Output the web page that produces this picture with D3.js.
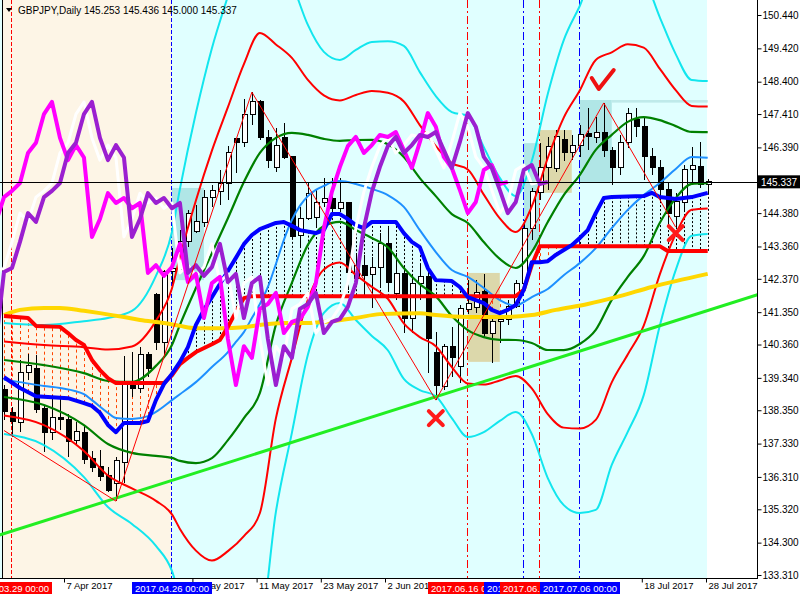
<!DOCTYPE html>
<html><head><meta charset="utf-8">
<script src="https://cdn.jsdelivr.net/npm/d3@7"></script>
<style>body{margin:0;background:#fff}svg{display:block}text{font-family:"Liberation Sans",Arial,sans-serif}</style>
</head><body><svg id="c" width="800" height="600"></svg>
<script>
// ---------- DATA ----------
const symbol = "GBPJPY,Daily";
const firstBarDate = "2017-03-28";
const opens  = [138.97,138.27,137.96,139.49,139.64,138.39,137.68,138.14,138.08,137.41,137.68,136.86,136.64,136.34,136.12,136.74,139.18,139.03,140.04,141.89,140.41,142.58,142.64,143.50,143.83,144.08,144.87,145.03,145.30,146.65,146.53,147.41,147.78,146.68,145.76,146.68,146.10,143.68,144.20,144.26,144.69,144.84,144.53,144.69,142.39,142.79,142.49,142.73,143.44,141.91,142.52,141.17,142.24,142.43,140.13,139.09,140.31,139.68,141.42,141.48,141.97,140.71,141.05,141.14,141.51,142.24,143.92,145.00,145.79,145.73,146.62,146.22,146.46,146.80,146.68,146.86,146.31,145.76,146.55,147.23,147.02,146.10,145.79,145.09,144.29,144.69,145.70,145.82,145.253];
const highs  = [139.12,138.45,139.89,140.07,140.04,138.51,138.82,138.72,138.24,137.99,137.90,137.10,137.13,136.61,136.92,140.00,140.13,140.28,140.13,141.95,142.64,143.30,143.87,144.48,144.63,145.09,145.24,145.70,146.43,146.68,147.87,148.08,147.84,146.92,146.98,147.13,146.12,144.57,145.33,145.09,145.45,145.45,145.45,144.72,143.16,143.10,143.04,143.77,143.92,143.16,142.73,142.49,142.79,142.55,140.74,140.38,140.90,141.57,142.34,142.33,142.52,141.20,141.20,141.72,142.33,144.17,145.15,146.53,146.71,146.92,146.92,146.77,147.07,147.59,147.32,147.75,146.40,146.77,147.59,147.59,147.32,146.37,146.00,145.30,145.00,145.85,146.40,146.55,145.436];
const lows   = [138.05,137.53,137.68,139.28,138.27,137.08,137.44,137.74,136.92,137.26,136.70,136.45,136.20,135.85,135.57,136.12,138.76,138.88,139.36,140.19,139.98,142.20,142.55,143.34,143.77,143.95,144.57,144.63,144.78,145.61,146.40,147.08,146.62,145.76,145.64,146.05,143.62,143.34,144.17,143.93,144.57,144.41,144.41,142.03,142.12,141.83,141.47,142.09,142.03,141.72,140.71,140.71,141.72,139.49,138.66,138.97,139.37,139.18,141.30,141.33,140.56,139.80,140.41,140.96,141.48,142.03,143.56,144.78,145.09,145.64,145.97,146.00,146.10,146.31,146.53,146.10,145.24,145.55,146.37,146.71,145.39,145.55,144.72,144.02,143.95,144.41,145.24,145.15,145.000];
const closes = [138.30,138.00,139.49,139.73,138.36,137.68,138.14,138.08,137.38,137.71,136.83,136.61,136.31,135.91,136.80,139.18,139.03,140.04,139.64,140.41,142.58,142.70,143.50,144.38,144.11,144.87,145.06,145.30,146.22,146.53,147.41,147.78,146.68,146.00,146.46,146.08,143.65,144.20,144.99,144.69,144.84,144.53,144.69,142.55,142.79,142.46,142.73,143.44,142.27,142.52,141.17,142.24,142.43,140.53,139.12,140.31,139.95,141.45,141.60,141.94,140.71,141.05,141.14,141.51,142.24,143.92,145.03,145.79,146.43,146.71,146.22,146.46,146.77,146.71,146.86,146.31,145.76,146.55,147.44,147.02,146.10,145.76,145.09,144.38,144.72,145.70,145.85,145.27,145.337];

// Bollinger-type envelope: middle and one deviation
const bandIdx = [0,5,10,13,16,19,21,22,24,26,28,30,32,34,36,38,40,42,44,46,48,50,52,54,56,58,60,62,64,66,68,70,72,74,76,78,80,82,84,86,88];
const bandMid = [139.32,139.12,138.69,138.28,138.13,138.33,138.62,138.88,139.41,140.02,140.83,141.72,142.55,143.82,144.54,145.09,145.32,145.35,145.24,145.12,144.91,144.40,143.83,143.37,142.79,142.44,142.04,141.74,141.60,141.80,142.15,142.56,142.96,143.56,144.25,144.80,145.19,145.65,145.94,146.07,146.08];
const bandDev = [0.566,0.612,0.795,0.964,1.086,1.377,1.728,2.080,2.677,3.135,3.395,3.610,3.671,2.860,2.294,1.682,1.331,1.239,1.377,1.499,1.575,1.698,1.621,1.530,1.560,1.637,1.453,1.239,1.101,1.392,1.958,2.371,2.585,2.753,2.524,2.371,2.126,1.575,1.101,0.795,0.780];

// light blue moving average
const maIdx = [0,2,5,7,10,11,13,14,16,18,19,21,22,24,26,28,29,30,31,32,33,34,35,36,37,38,39,40,41,42,44,46,48,50,52,54,56,58,60,62,64,65,66,68,70,72,74,76,78,80,82,84,86,88];
const maVal = [139.28,139.21,139.09,139.03,138.84,138.66,138.27,138.11,138.08,138.17,138.30,138.66,138.84,139.21,139.67,140.13,140.44,140.74,141.17,141.60,142.12,142.82,143.56,144.17,144.60,144.90,145.09,145.21,145.33,145.36,145.27,145.12,144.93,144.57,143.86,143.19,142.64,142.43,142.09,141.72,141.54,141.66,141.81,142.06,142.48,142.85,143.31,143.92,144.48,144.93,145.30,145.73,146.10,146.07];

// thick blue span
const spanAIdx = [0,2,4,6,8,10,11,12,13,14,15,17,18,19,20,21,22,23,24,25,26,27,28,29,30,31,32,34,35,36,37,39,40,41,42,43,44,45,46,49,50,51,52,53,54,56,57,58,59,60,61,62,63,64,65,66,67,68,69,70,71,72,73,74,75,76,80,81,82,84,86,88];
const spanAVal = [139.36,139.03,138.78,138.75,138.72,138.57,138.48,138.27,137.90,137.68,137.96,137.96,138.02,138.66,139.15,139.46,139.83,140.28,140.96,141.42,141.81,142.21,142.61,143.01,143.43,143.71,143.89,144.08,144.11,143.99,143.86,143.77,143.86,144.35,144.35,144.20,144.01,143.92,144.11,144.11,143.77,143.50,143.34,142.70,142.33,142.30,142.12,141.81,141.72,141.63,141.42,141.32,141.42,141.57,142.03,142.88,142.88,142.91,143.10,143.25,143.40,143.62,143.86,144.38,144.84,144.87,144.90,145.00,144.87,144.81,144.87,145.00];

// thick red step span
const spanBIdx = [0,3,4,7,8,9,10,11,12,13,14,20,21,22,23,24,26,27,28,29,30,31,64,65,66,67,82,83,88];
const spanBVal = [141.23,141.17,140.93,140.90,140.71,140.50,140.35,139.89,139.58,139.33,139.18,139.18,139.42,139.76,139.95,140.13,140.37,140.50,140.90,141.36,141.78,141.84,141.84,142.03,142.79,143.37,143.37,143.22,143.22];

// gold long average
const slowIdx = [0,2,5,7,10,12,15,17,20,22,24,27,30,32,35,38,40,44,47,52,54,58,62,66,69,73,77,81,84,88];
const slowVal = [141.26,141.42,141.48,141.48,141.39,141.32,141.20,141.11,141.02,140.93,140.86,140.86,140.89,140.96,141.02,141.02,141.05,141.17,141.29,141.32,141.26,141.20,141.20,141.26,141.42,141.60,141.84,142.12,142.30,142.52];

// lagging close lines (bars shifted back)
const lagMagenta = 25, lagWhite = 21, lagPurple = 20;

// trend line anchors and zigzag
const trendIdx = [14, 55];
const trendVal = [135.66, 138.84];
const zigIdx = [0, 14, 31, 54, 75, 84];
const zigVal = [137.73, 135.57, 148.08, 138.66, 147.75, 143.95];

// boxes [fromBar, toBar, top, bottom]
const tanBoxes  = [[58, 62, 142.55, 139.83], [67, 71, 146.92, 145.00]];
const tealBoxes = [[21, 25, 145.15, 142.33], [65, 67, 146.52, 143.25], [72, 76, 147.84, 145.30]];
const paleLine  = [76, 88, 147.84, 147.76];

// marks
const crossMarks = [[54, 138.11], [84, 143.77]];
const checkMarks = [[75, 148.39]];

// vertical event lines
const eventBars   = [1, 21, 58, 65, 67, 72];
const eventColors = ["#ff0000", "#0000ff", "#ff0000", "#0000ff", "#ff0000", "#0000ff"];

// axis ticks
const priceTicks = [150.440,149.420,148.400,147.410,146.390,144.380,143.360,142.370,141.350,140.360,139.340,138.350,137.330,136.310,135.320,134.300,133.310];
const dateTickBars = [8,24,32,40,48,80,88];
const lastPrice = 145.337;

// ---------- DRAW ----------
const nBars = closes.length;
const dates = [];
{ let d = new Date(firstBarDate + "T00:00:00"); while (dates.length < nBars) { const w = d.getDay(); if (w !== 0 && w !== 6) dates.push(new Date(d)); d.setDate(d.getDate() + 1); } }

const svg = d3.select("#c");
const PR = 757, PB = 578;
const x = d3.scaleLinear().domain([0, 88]).range([4, 707.7]);
const xt = d3.scaleLinear().domain([0, 88]).range([-0.2, 706]);
const y = d3.scaleLinear().domain([133.31, 150.44]).range([575, 15]);

svg.append("defs").append("clipPath").attr("id", "clip").append("rect").attr("x", 0).attr("y", 0).attr("width", PR).attr("height", PB);
const plot = svg.append("g").attr("clip-path", "url(#clip)");

// backgrounds
plot.append("rect").attr("x", 0).attr("y", 0).attr("width", PR).attr("height", PB).attr("fill", "#ffffff");
plot.append("rect").attr("x", 0).attr("y", 0).attr("width", x(88) - 0.7).attr("height", PB).attr("fill", "#e0ffff");
plot.append("rect").attr("x", 3).attr("y", 0).attr("width", x(21) - 3).attr("height", PB).attr("fill", "#fdf5e6");

// boxes
tanBoxes.forEach(b => plot.append("rect").attr("x", x(b[0])).attr("width", x(b[1]) - x(b[0])).attr("y", y(b[2])).attr("height", y(b[3]) - y(b[2])).attr("fill", "#dcd8ab"));
tealBoxes.forEach(b => plot.append("rect").attr("x", x(b[0])).attr("width", x(b[1]) - x(b[0])).attr("y", y(b[2])).attr("height", y(b[3]) - y(b[2])).attr("fill", "#b0e6e6"));
plot.append("rect").attr("x", x(paleLine[0])).attr("width", x(paleLine[1]) - x(paleLine[0])).attr("y", y(paleLine[2])).attr("height", y(paleLine[3]) - y(paleLine[2])).attr("fill", "#bfeaea");

// event lines
const dashes = ["4,2", "4,2", "8,3,2,3", "8,3,2,3", "8,3,2,3", "8,3,2,3"];
eventBars.forEach((b, k) => plot.append("line").attr("x1", Math.round(x(b)) - 0.5).attr("x2", Math.round(x(b)) - 0.5).attr("y1", 0).attr("y2", PB)
  .attr("stroke", eventColors[k]).attr("stroke-width", 1).attr("stroke-dasharray", dashes[k]));
plot.append("line").attr("x1", 2.5).attr("x2", 2.5).attr("y1", 0).attr("y2", PB).attr("stroke", "#000");

// helpers
const lin = (idx, val) => i => { if (i <= idx[0]) return val[0]; for (let k = 1; k < idx.length; k++) if (i <= idx[k]) { const t = (i - idx[k-1]) / (idx[k] - idx[k-1]); return val[k-1] + t * (val[k] - val[k-1]); } return val[val.length - 1]; };
const pathOf = (pts, curve) => d3.line().x(d => x(d[0])).y(d => y(d[1])).curve(curve || d3.curveLinear)(pts);
const drawLine = (pts, color, w, curve, dash) => plot.append("path").attr("d", pathOf(pts, curve)).attr("fill", "none").attr("stroke", color).attr("stroke-width", w).attr("stroke-linejoin", "round").attr("stroke-dasharray", dash || null);

// hatch between spans
const fA = lin(spanAIdx, spanAVal), fB = lin(spanBIdx, spanBVal);
for (let i = 0; i < nBars; i++) {
  const ya = y(fA(i)), yb = y(fB(i));
  if (Math.abs(ya - yb) < 3) continue;
  const xx = Math.round(x(i)) + 0.5;
  plot.append("line").attr("x1", xx).attr("x2", xx).attr("y1", ya).attr("y2", yb)
    .attr("stroke", ya < yb ? "#000000" : "#ff4500").attr("stroke-width", 1).attr("stroke-dasharray", ya < yb ? "2,2" : "3,3");
}

// candles
const cg = plot.append("g").attr("shape-rendering", "crispEdges");
for (let i = 0; i < nBars; i++) {
  const cx = Math.round(x(i));
  const up = closes[i] >= opens[i];
  cg.append("line").attr("x1", cx + 0.5).attr("x2", cx + 0.5).attr("y1", y(highs[i])).attr("y2", y(lows[i])).attr("stroke", "#000");
  const top = y(Math.max(opens[i], closes[i])), bot = y(Math.min(opens[i], closes[i]));
  cg.append("rect").attr("x", cx - 2).attr("y", top).attr("width", 5).attr("height", Math.max(1, bot - top))
    .attr("fill", up ? "#fff" : "#000").attr("stroke", "#000").attr("stroke-width", 1);
}

// bands
const bandPts = k => bandIdx.map((b, j) => [b, bandMid[j] + k * bandDev[j]]);
const smooth = d3.curveMonotoneX;
drawLine(bandPts(3), "#12e6ee", 2, smooth);
drawLine(bandPts(-3), "#12e6ee", 2, smooth);
drawLine(bandPts(2), "#ff0000", 2, smooth);
drawLine(bandPts(-2), "#ff0000", 2, smooth);
drawLine(bandPts(1), "#008000", 2.2, smooth);
drawLine(bandPts(-1), "#008000", 2.2, smooth);
drawLine(maIdx.map((b, j) => [b, maVal[j]]), "#1e90ff", 2, smooth);
drawLine(slowIdx.map((b, j) => [b, slowVal[j]]), "#ffd700", 4, smooth);

// trend line
const trendSlope = (trendVal[1] - trendVal[0]) / (trendIdx[1] - trendIdx[0]);
drawLine([[-1, trendVal[0] + trendSlope * (-1 - trendIdx[0])], [96, trendVal[0] + trendSlope * (96 - trendIdx[0])]], "#22ee22", 3);

// spans
drawLine(spanBIdx.map((b, j) => [b, spanBVal[j]]), "#ff0000", 4);
drawLine(spanAIdx.map((b, j) => [b, spanAVal[j]]), "#0000ff", 4);

// lagging lines
const lagPts = s => d3.range(-1, nBars - s).map(i => [i, closes[i + s]]).filter(d => d[1] !== undefined);
drawLine(lagPts(lagWhite), "#ffffff", 3);
drawLine(lagPts(lagMagenta), "#ff00ff", 4);
drawLine(lagPts(lagPurple), "#9b1fd0", 4);

// zigzag
drawLine(zigIdx.map((b, j) => [b, zigVal[j]]), "#ff0000", 1);

// marks
crossMarks.forEach(m => plot.append("path").attr("transform", `translate(${x(m[0])},${y(m[1])})`)
  .attr("d", "M-7,-7L7,7M7,-7L-7,7").attr("stroke", "#ff1a1a").attr("stroke-width", 4).attr("stroke-linecap", "round"));
checkMarks.forEach(m => plot.append("path").attr("transform", `translate(${x(m[0])},${y(m[1])})`)
  .attr("d", "M-12,-4L-5,7L10,-12").attr("fill", "none").attr("stroke", "#ee1111").attr("stroke-width", 4).attr("stroke-linecap", "round").attr("stroke-linejoin", "round"));

// last price line
plot.append("line").attr("x1", 0).attr("x2", PR).attr("y1", Math.round(y(lastPrice)) + 0.5).attr("y2", Math.round(y(lastPrice)) + 0.5).attr("stroke", "#000");

// frame
svg.append("line").attr("x1", PR + 0.5).attr("x2", PR + 0.5).attr("y1", 0).attr("y2", PB + 1).attr("stroke", "#000");
svg.append("line").attr("x1", 0).attr("x2", PR + 1).attr("y1", PB + 0.5).attr("y2", PB + 0.5).attr("stroke", "#000");

// price axis
const ya = svg.append("g").attr("transform", `translate(${PR + 0.5},0)`)
  .call(d3.axisRight(y).tickValues(priceTicks).tickSize(4).tickPadding(1).tickFormat(d3.format(".3f")));
ya.select(".domain").remove();
ya.selectAll("text").attr("font-size", 10).attr("font-family", "Liberation Sans, Arial, sans-serif").attr("fill", "#000");
ya.selectAll("line").attr("stroke", "#000");
const lp = svg.append("g").attr("transform", `translate(${PR + 1},${y(lastPrice)})`);
lp.append("rect").attr("x", 0).attr("y", -6.5).attr("width", 43).attr("height", 13).attr("fill", "#000");
lp.append("text").attr("x", 3).attr("y", 4).attr("font-size", 10).attr("fill", "#fff").text(d3.format(".3f")(lastPrice));

// date axis
const fmtDay = d3.timeFormat("%-d %b %Y");
const xa = svg.append("g").attr("transform", `translate(0,${PB + 0.5})`)
  .call(d3.axisBottom(xt).tickValues(dateTickBars).tickSize(4).tickFormat(i => fmtDay(dates[i])));
xa.select(".domain").remove();
xa.selectAll("line").attr("stroke", "#000");
xa.selectAll("text").attr("text-anchor", "start").attr("x", 2).attr("dy", "0.5em").attr("y", 6).attr("font-size", 9.5).attr("font-family", "Liberation Sans, Arial, sans-serif").attr("fill", "#000");

// event labels
const fmtFull = d3.timeFormat("%Y.%m.%d %H:%M");
eventBars.forEach((b, k) => {
  const g = svg.append("g").attr("transform", `translate(${Math.round(x(b))},${PB + 4})`);
  g.append("rect").attr("x", -40).attr("y", 0).attr("width", 80).attr("height", 12).attr("fill", eventColors[k]);
  g.append("text").attr("x", 0).attr("y", 9.5).attr("text-anchor", "middle").attr("font-size", 9.5).attr("fill", "#fff").text(fmtFull(dates[b]));
});

// title
svg.append("path").attr("d", "M6,8L12,8L9,12Z").attr("fill", "#000");
svg.append("text").attr("x", 18).attr("y", 14).attr("font-size", 10).attr("fill", "#000")
  .text(`${symbol}  ${d3.format(".3f")(opens[nBars-1])} ${d3.format(".3f")(highs[nBars-1])} ${d3.format(".3f")(lows[nBars-1])} ${d3.format(".3f")(closes[nBars-1])}`);
</script>
</body></html>
